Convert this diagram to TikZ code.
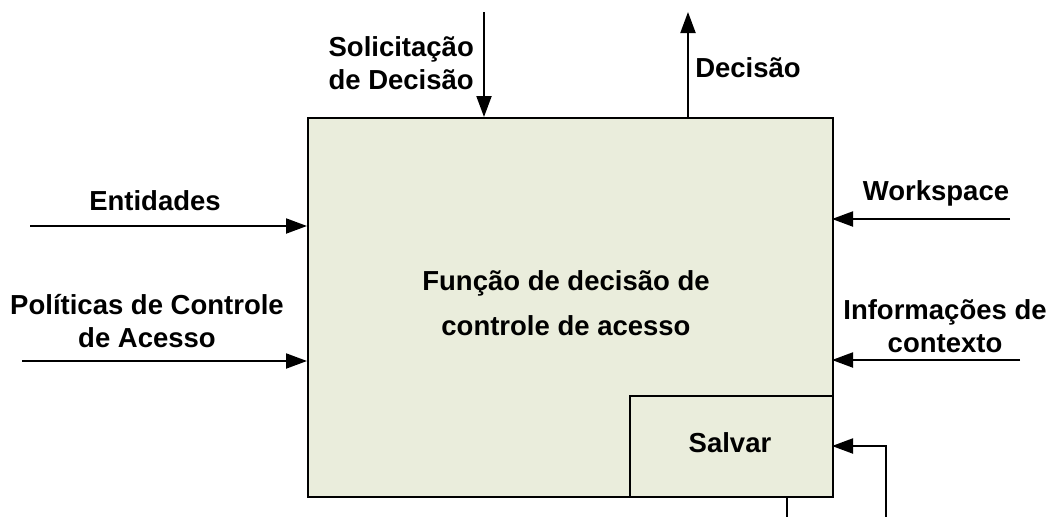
\documentclass[tikz,border=0pt]{standalone}
\usepackage{fontspec}
\setmainfont{Liberation Sans}
\usetikzlibrary{arrows.meta}
\definecolor{boxfill}{HTML}{EAEDDC}
\begin{document}
\begin{tikzpicture}[x=1pt,y=-1pt,
  lbl/.style={font=\bfseries\fontsize{27.5}{33}\selectfont, align=center, inner sep=0pt},
  conn/.style={line width=2pt, -{Triangle[length=21pt,width=15pt]}},
  wire/.style={line width=2pt}]
\useasboundingbox (0,0) rectangle (1053,517);
\node[draw, line width=2pt, fill=boxfill, minimum width=525pt, minimum height=379pt, anchor=north west, inner sep=0pt] (main) at (307,117) {};
\node[draw, line width=2pt, fill=boxfill, minimum width=203pt, minimum height=101pt, anchor=north west, inner sep=0pt] (salvar) at (629,395) {};
\node[lbl] (salvart) at (730,443) {Salvar};
\node[lbl] (center) at (566,303) {Função de decisão de\\[12pt]controle de acesso};

% top arrows
\coordinate (solTop) at (484,12);
\coordinate (solEnd) at (484,117);
\draw[conn] (solTop) -- (solEnd);
\node[lbl, align=right, anchor=east] (solLbl) at (474,63) {Solicitação\\de Decisão};
\coordinate (decStart) at (688,117);
\coordinate (decEnd) at (688,12);
\draw[conn] (decStart) -- (decEnd);
\node[lbl] (decLbl) at (748,68) {Decisão};

% left arrows
\coordinate (entStart) at (30,226);
\draw[conn] (entStart) -- (307,226);
\node[lbl] (entLbl) at (155,201) {Entidades};
\coordinate (polStart) at (22,361);
\draw[conn] (polStart) -- (307,361);
\node[lbl] (polLbl) at (147,321) {Políticas de Controle\\de Acesso};

% right arrows
\coordinate (wsStart) at (1010,219);
\draw[conn] (wsStart) -- (832,219);
\node[lbl] (wsLbl) at (936,193) {Workspace};
\coordinate (icStart) at (1020,360);
\draw[conn] (icStart) -- (832,360);
\node[lbl] (icLbl) at (945,326) {Informações de\\contexto};

% feedback
\coordinate (fbA) at (787,496);
\coordinate (fbB) at (787,517);
\draw[wire] (fbA) -- (fbB);
\coordinate (fbC) at (886,517);
\coordinate (fbD) at (886,446);
\draw[conn] (fbC) -- (fbD) -- (832,446);
\end{tikzpicture}
\end{document}
